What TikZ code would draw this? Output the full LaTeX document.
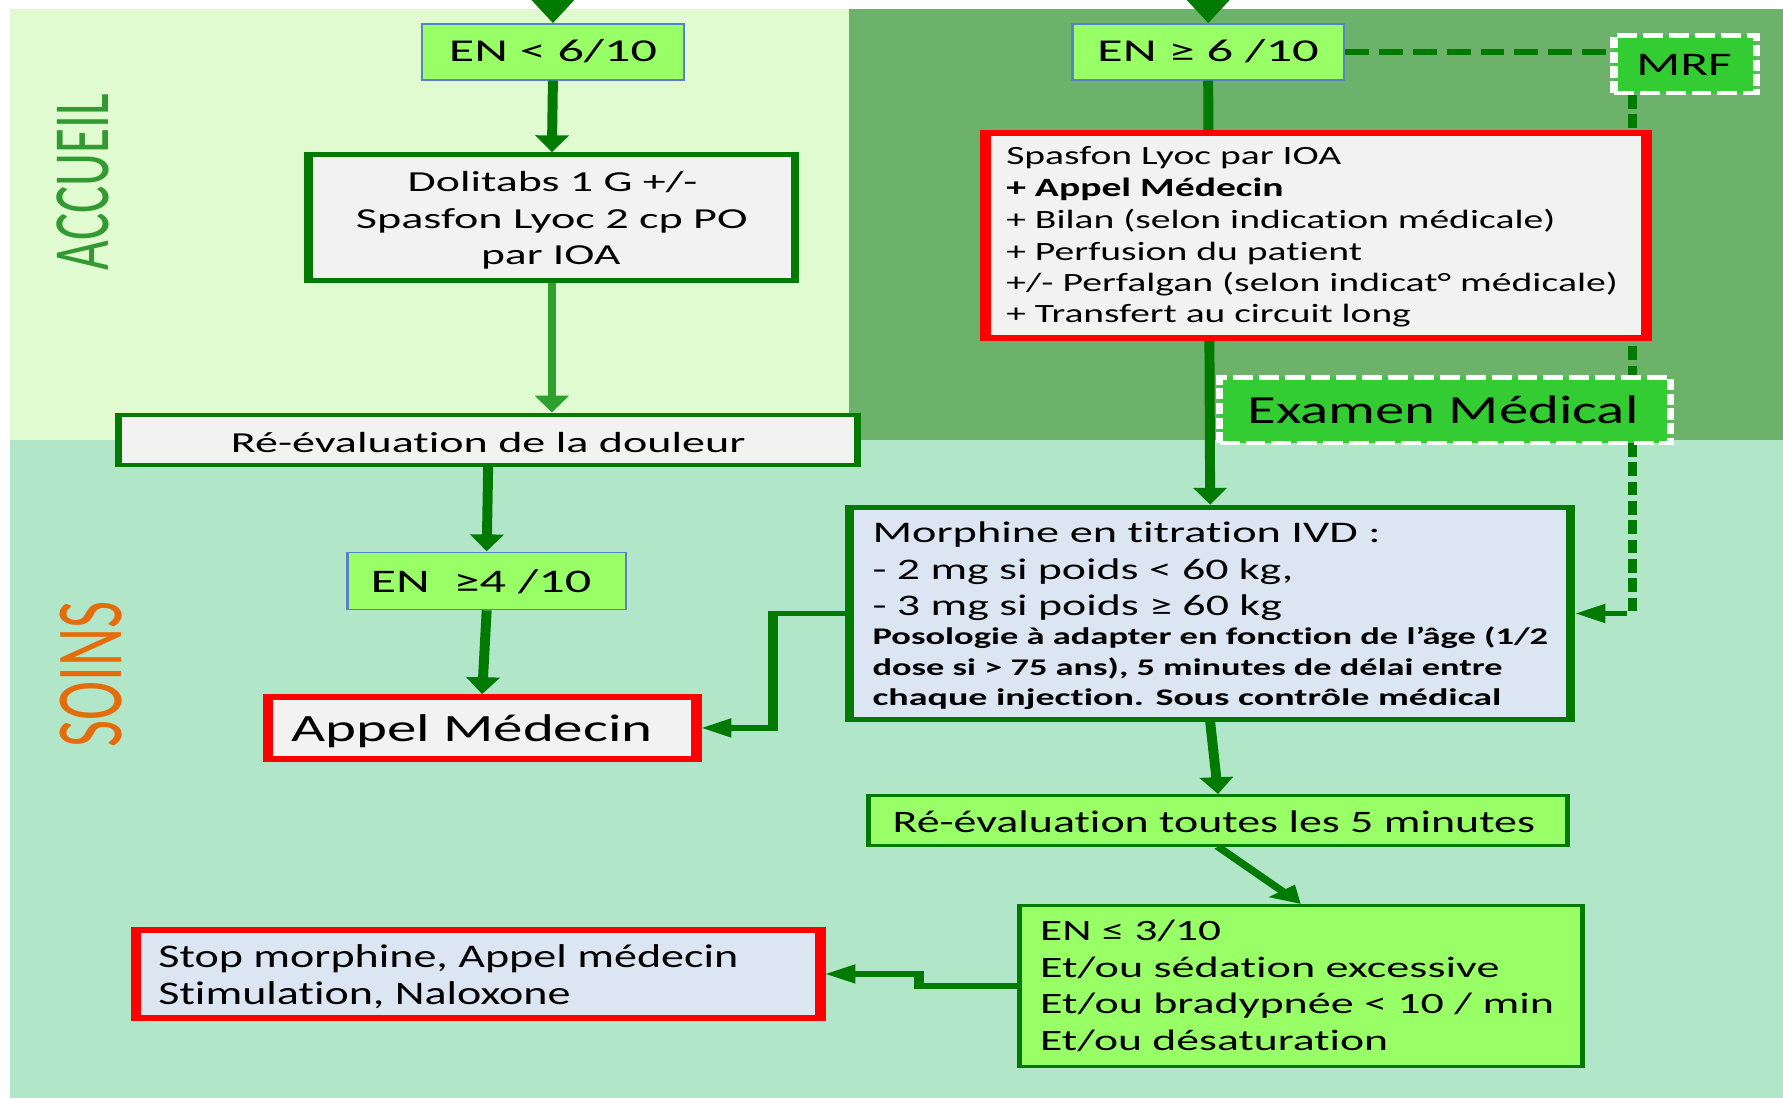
\documentclass[tikz,border=0pt]{standalone}
\usepackage{fontspec}
\setmainfont{Carlito}[Ligatures=NoCommon]
\usepackage{graphicx}
\usetikzlibrary{arrows.meta,calc}
\definecolor{accbg}{HTML}{E0FBD0}
\definecolor{darkbg}{HTML}{6CB26A}
\definecolor{mintbg}{HTML}{B2E6C8}
\definecolor{enfill}{HTML}{99FF66}
\definecolor{enborder}{HTML}{5B7FC8}
\definecolor{boxgray}{HTML}{F2F2F2}
\definecolor{boxblue}{HTML}{DCE6F2}
\definecolor{dgreen}{HTML}{007A00}
\definecolor{lgreen}{HTML}{2EA02E}
\definecolor{mrffill}{HTML}{33CC33}
\definecolor{accueilc}{HTML}{339933}
\definecolor{soinsc}{HTML}{E46C0A}
\definecolor{redc}{HTML}{FF0000}
\newlength\slen
\newcommand\sline[2]{\pgfmathsetlength{\slen}{#1/1.75}\resizebox{\slen}{\height}{#2}}
\newcommand\fsz[1]{\fontsize{#1}{#1}\selectfont}
\newcommand\bx[7]{\node[#6, line width=#7pt, minimum width={((#4)-(#2))/1.75*1pt-#7pt}, minimum height={((#5)-(#3))*1pt-#7pt}, inner sep=0pt] (#1) at ({((#2)+(#4))/2},{((#3)+(#5))/2}) {};}
\tikzset{
 enbox/.style={fill=enfill, draw=enborder},
 graybox/.style={fill=boxgray},
 bluebox/.style={fill=boxblue},
 limebox/.style={fill=enfill},
 gframe/.style={draw=dgreen},
 rframe/.style={draw=redc},
 dashbox/.style={fill=mrffill, draw=white, dash pattern=on 10pt off 3pt},
 conn/.style={draw=dgreen, line width=5pt},
 dashpat/.style={dash pattern=on 12pt off 5pt, line width=4.5pt},
 arrowhd/.style={-{Triangle[length=15pt,width=16pt]}},
 bigtip/.style={-{Triangle[length=26pt,width=26pt]}},
 txt/.style={inner sep=0pt, text=black},
}
\begin{document}
\begin{tikzpicture}[x=1pt,y=-1pt]
\useasboundingbox (0,0) rectangle (1568,966);
\clip (0,0) rectangle (1568,966);
\fill[white] (0,0) rectangle (1568,966);
\fill[accbg] (8.5,8.2) rectangle (746.5,386.5);
\fill[darkbg] (746.5,8.2) rectangle (1568,386.5);
\fill[mintbg] (8.5,386.5) rectangle (1568,966);
\begin{scope}[transform canvas={xscale=1.75}, x={(0.5714286pt,0pt)}, y={(0pt,-1pt)}]
% section labels
\node[rotate=90, inner sep=0pt, text=accueilc] (accueil) at (73.3,160) {\resizebox{155pt}{26pt}{ACCUEIL}};
\node[rotate=90, inner sep=0pt, text=soinsc] (soins) at (80,593) {\resizebox{128.5pt}{30.9pt}{SOINS}};
% boxes
\bx{enlo}{370}{20.5}{602.5}{71}{enbox}{1.2}
\bx{enhi}{942}{20.5}{1183}{71}{enbox}{1.2}
\bx{mrf}{1416}{29.3}{1548}{83.6}{dashbox}{3.8}
\bx{doli}{267.7}{134}{703}{249}{graybox, gframe}{4.2}
\bx{redoul}{101}{363}{757.6}{410.5}{graybox, gframe}{3.6}
\bx{en4}{304.5}{485}{551.5}{536.7}{enbox}{1.2}
\bx{appel}{231}{610.6}{617}{669.7}{graybox, rframe}{5.2}
\bx{morph}{743}{444}{1385.5}{635}{bluebox, gframe}{4.8}
\bx{re5}{761.5}{698.5}{1381}{744.7}{limebox, gframe}{2.6}
\bx{enle}{894}{795}{1394}{939}{limebox, gframe}{2.6}
\bx{stop}{115}{815}{726}{898}{bluebox, rframe}{5.2}
% connectors
\coordinate (top1) at (486.25,-40);
\coordinate (top2) at (1062.5,-40);
\draw[conn, bigtip] (top1) -- (enlo.north);
\draw[conn, bigtip] (top2) -- (enhi.north);
\draw[conn, arrowhd] (enlo.south) -- (doli.north);
\draw[conn, draw=lgreen, line width=3.8pt, arrowhd] (doli.south) -- (doli.south |- redoul.north);
\draw[conn, arrowhd] (redoul.south) -- (en4.north);
\draw[conn, arrowhd] (en4.south) -- (appel.north);
\draw[conn, arrowhd] (morph.west) -- ++(-63,0) |- (appel.east);
\draw[conn, arrowhd] (enhi.south) -- (morph.north);
\draw[conn, dashpat] (enhi.east) -- (enhi.east -| mrf.west);
\draw[conn, dashpat, arrowhd] ($(mrf.south west)!0.15!(mrf.south east)$) |- (morph.east);
\draw[conn, arrowhd] (morph.south) -- (re5.north);
\draw[conn, arrowhd] (re5.south) -- (enle.north);
\draw[conn, arrowhd] (enle.west) -- ++(-86,0) |- (stop.east);
% boxes over connectors
\bx{redbx}{861.6}{114.4}{1453}{299.7}{graybox, rframe}{5.5}
\bx{exam}{1069.3}{330}{1472.3}{391.5}{dashbox}{3.8}
% texts
\node[txt, anchor=base, font=\fsz{28}] (tenlo) at (486.25,54.3) {\sline{183}{EN < 6/10}};
\node[txt, anchor=base, font=\fsz{28}] (tenhi) at (1062.3,54.3) {\sline{195}{EN ≥ 6 /10}};
\node[txt, anchor=base, font=\fsz{29}] (tmrf) at (1481,66) {\sline{84}{MRF}};
\node[txt, anchor=base, font=\fsz{25.5}] (td1) at (486,168.8) {\sline{255}{Dolitabs 1 G +/-}};
\node[txt, anchor=base, font=\fsz{25.5}] (td2) at (485.3,201) {\sline{344.5}{Spasfon Lyoc 2 cp PO}};
\node[txt, anchor=base, font=\fsz{25.5}] (td3) at (484.3,233) {\sline{122.5}{par IOA}};
\node[txt, anchor=base west, font=\fsz{23.2}] (tr1) at (884.6,145) {\sline{294.6}{Spasfon Lyoc par IOA}};
\node[txt, anchor=base west, font=\fsz{23.2}\bfseries] (tr2) at (884.6,173) {\sline{243.8}{+ Appel Médecin}};
\node[txt, anchor=base west, font=\fsz{23.2}] (tr3) at (884.6,201) {\sline{483}{+ Bilan (selon indication médicale)}};
\node[txt, anchor=base west, font=\fsz{23.2}] (tr4) at (884.6,228.7) {\sline{313}{+ Perfusion du patient}};
\node[txt, anchor=base west, font=\fsz{23.2}] (tr5) at (884.6,256) {\sline{538}{+/- Perfalgan (selon indicat° médicale)}};
\node[txt, anchor=base west, font=\fsz{23.2}] (tr6) at (884.6,283.8) {\sline{355.8}{+ Transfert au circuit long}};
\node[txt, anchor=base, font=\fsz{25.5}] (trd) at (429.3,398) {\sline{452.6}{Ré-évaluation de la douleur}};
\node[txt, anchor=base, font=\fsz{35}] (tex) at (1269,372) {\sline{344}{Examen Médical}};
\node[txt, anchor=base, font=\fsz{29}] (ten4) at (423,521) {\sline{194}{EN\ \ ≥4 /10}};
\node[txt, anchor=base, font=\fsz{34}] (tap) at (415,652) {\sline{318}{Appel Médecin}};
\node[txt, anchor=base west, font=\fsz{26.3}] (tm1) at (767,477) {\sline{447}{Morphine en titration IVD :}};
\node[txt, anchor=base west, font=\fsz{26.3}] (tm2) at (767,510) {\sline{370}{- 2 mg si poids < 60 kg,}};
\node[txt, anchor=base west, font=\fsz{26.3}] (tm3) at (767,541) {\sline{360}{- 3 mg si poids ≥ 60 kg}};
\node[txt, anchor=base west, font=\fsz{21}\bfseries] (tm4) at (767,567) {\sline{594}{Posologie à adapter en fonction de l’âge (1/2}};
\node[txt, anchor=base west, font=\fsz{21}\bfseries] (tm5) at (767,594) {\sline{554}{dose si > 75 ans), 5 minutes de délai entre}};
\node[txt, anchor=base west, font=\fsz{21}\bfseries] (tm6) at (767,620) {\sline{553}{chaque injection. Sous contrôle médical}};
\node[txt, anchor=base, font=\fsz{27.5}] (tre5) at (1067.5,732) {\sline{565}{Ré-évaluation toutes les 5 minutes}};
\node[txt, anchor=base west, font=\fsz{26}] (tl1) at (914.4,827) {\sline{159}{EN ≤ 3/10}};
\node[txt, anchor=base west, font=\fsz{26}] (tl2) at (914.4,860) {\sline{404}{Et/ou sédation excessive}};
\node[txt, anchor=base west, font=\fsz{26}] (tl3) at (914.4,891) {\sline{452}{Et/ou bradypnée < 10 / min}};
\node[txt, anchor=base west, font=\fsz{26}] (tl4) at (914.4,924) {\sline{306}{Et/ou désaturation}};
\node[txt, anchor=base west, font=\fsz{29}] (ts1) at (139,850.7) {\sline{510}{Stop morphine, Appel médecin}};
\node[txt, anchor=base west, font=\fsz{29}] (ts2) at (139,883) {\sline{362.5}{Stimulation, Naloxone}};
\end{scope}
\end{tikzpicture}
\end{document}
